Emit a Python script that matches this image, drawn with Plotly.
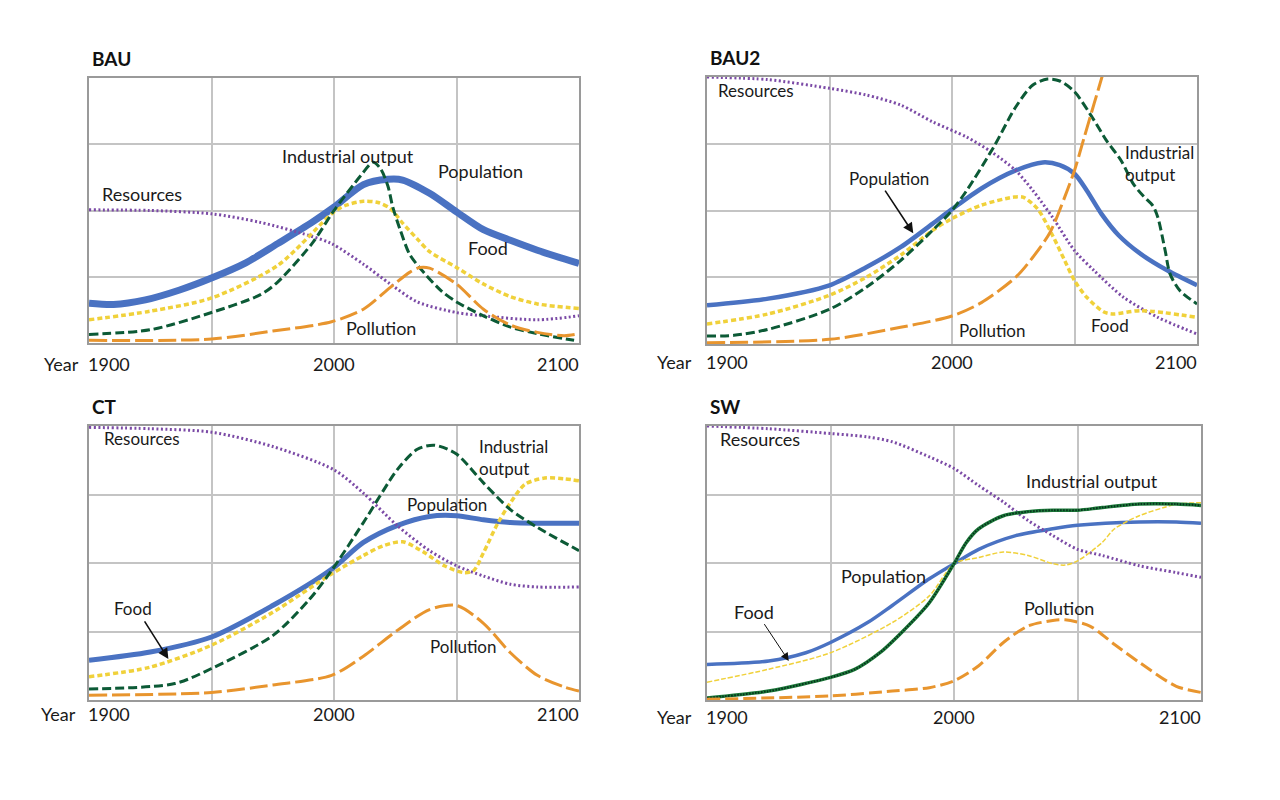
import plotly.graph_objects as go

# ---------------- data (values in grid units, 0..4) ----------------
# BAU
bau_pop_yr = [1900, 1910, 1923, 1937, 1950, 1964, 1977, 1991, 2000, 2012, 2022, 2028, 2039, 2050, 2061, 2072, 2083, 2100]
bau_pop = [0.60, 0.58, 0.65, 0.80, 0.98, 1.21, 1.50, 1.82, 2.05, 2.39, 2.47, 2.46, 2.26, 1.98, 1.71, 1.55, 1.40, 1.20]
bau_res_yr = [1900, 1925, 1950, 1970, 1990, 1999, 2012, 2023, 2034, 2050, 2061, 2083, 2100]
bau_res = [2.01, 2.00, 1.95, 1.82, 1.62, 1.50, 1.19, 0.89, 0.62, 0.46, 0.41, 0.35, 0.41]
bau_food_yr = [1900, 1925, 1950, 1977, 2000, 2005, 2012, 2018, 2023, 2028, 2034, 2039, 2050, 2061, 2072, 2083, 2100]
bau_food = [0.35, 0.48, 0.68, 1.17, 1.98, 2.08, 2.14, 2.12, 2.03, 1.81, 1.57, 1.38, 1.14, 0.89, 0.70, 0.59, 0.52]
bau_ind_yr = [1900, 1925, 1950, 1970, 1977, 1991, 2000, 2011, 2016, 2019, 2022, 2024, 2027, 2031, 2037, 2044, 2050, 2061, 2072, 2083, 2098]
bau_ind = [0.13, 0.20, 0.46, 0.73, 0.92, 1.50, 2.00, 2.53, 2.73, 2.63, 2.37, 2.05, 1.71, 1.33, 1.05, 0.78, 0.62, 0.41, 0.24, 0.14, 0.04]
bau_poll_yr = [1900, 1950, 1975, 1999, 2012, 2023, 2031, 2035, 2039, 2050, 2061, 2072, 2083, 2094, 2100]
bau_poll = [0.04, 0.06, 0.18, 0.32, 0.51, 0.84, 1.07, 1.14, 1.13, 0.89, 0.51, 0.27, 0.16, 0.11, 0.14]

# BAU2
bau2_pop_yr = [1900, 1925, 1950, 1965, 1979, 1992, 2000, 2012, 2026, 2037, 2044, 2050, 2055, 2061, 2068, 2077, 2088, 2100]
bau2_pop = [0.58, 0.68, 0.88, 1.15, 1.45, 1.80, 2.02, 2.33, 2.60, 2.72, 2.68, 2.55, 2.30, 1.95, 1.63, 1.35, 1.10, 0.88]
bau2_res_yr = [1900, 1925, 1950, 1965, 1979, 1992, 2006, 2016, 2026, 2033, 2041, 2050, 2058, 2070, 2084, 2100]
bau2_res = [4.00, 3.96, 3.83, 3.73, 3.58, 3.33, 3.10, 2.88, 2.60, 2.30, 1.90, 1.40, 1.10, 0.70, 0.40, 0.15]
bau2_food_yr = [1900, 1925, 1950, 1965, 1979, 1992, 2000, 2012, 2025, 2029, 2035, 2041, 2046, 2050, 2055, 2062, 2066, 2077, 2100]
bau2_food = [0.30, 0.45, 0.73, 1.00, 1.33, 1.70, 1.88, 2.08, 2.20, 2.20, 2.02, 1.63, 1.25, 0.95, 0.70, 0.48, 0.45, 0.50, 0.40]
bau2_ind_yr = [1900, 1911, 1925, 1950, 1965, 1979, 1992, 2000, 2006, 2017, 2026, 2033, 2039, 2044, 2050, 2058, 2063, 2069, 2074, 2078, 2082, 2084, 2087, 2089, 2093, 2100]
bau2_ind = [0.12, 0.13, 0.22, 0.52, 0.85, 1.25, 1.70, 2.00, 2.30, 2.95, 3.55, 3.88, 3.97, 3.94, 3.78, 3.35, 3.05, 2.75, 2.40, 2.22, 2.07, 1.90, 1.40, 1.05, 0.80, 0.60]
bau2_poll_yr = [1900, 1950, 1979, 2000, 2012, 2026, 2033, 2040, 2046, 2050, 2054, 2058, 2062, 2065]
bau2_poll = [0.02, 0.07, 0.25, 0.42, 0.62, 1.00, 1.30, 1.67, 2.20, 2.60, 3.10, 3.60, 4.10, 4.50]

# CT
ct_pop_yr = [1900, 1925, 1950, 1975, 1999, 2012, 2026, 2039, 2050, 2061, 2072, 2083, 2100]
ct_pop = [0.58, 0.70, 0.92, 1.38, 1.91, 2.30, 2.55, 2.68, 2.69, 2.63, 2.59, 2.58, 2.58]
ct_res_yr = [1900, 1925, 1950, 1975, 2000, 2012, 2026, 2039, 2050, 2061, 2072, 2083, 2100]
ct_res = [3.98, 3.96, 3.91, 3.70, 3.36, 3.02, 2.54, 2.18, 1.96, 1.81, 1.69, 1.65, 1.65]
ct_food_yr = [1900, 1925, 1950, 1975, 1999, 2012, 2020, 2028, 2037, 2045, 2053, 2057, 2061, 2067, 2072, 2078, 2086, 2094, 2100]
ct_food = [0.34, 0.48, 0.80, 1.28, 1.84, 2.11, 2.25, 2.31, 2.15, 1.96, 1.86, 1.89, 2.15, 2.59, 2.88, 3.15, 3.24, 3.23, 3.20]
ct_ind_yr = [1900, 1935, 1950, 1975, 1990, 1999, 2012, 2026, 2034, 2041, 2050, 2061, 2072, 2083, 2100]
ct_ind = [0.16, 0.24, 0.46, 0.94, 1.47, 1.89, 2.59, 3.37, 3.66, 3.72, 3.59, 3.17, 2.78, 2.52, 2.18]
ct_poll_yr = [1900, 1950, 1975, 1999, 2012, 2026, 2039, 2050, 2061, 2072, 2083, 2094, 2100]
ct_poll = [0.07, 0.11, 0.22, 0.36, 0.64, 1.02, 1.32, 1.38, 1.12, 0.69, 0.36, 0.19, 0.13]

# SW
sw_pop_yr = [1900, 1925, 1940, 1950, 1965, 1975, 1990, 2000, 2010, 2025, 2040, 2050, 2075, 2090, 2100]
sw_pop = [0.52, 0.57, 0.69, 0.84, 1.13, 1.38, 1.77, 1.99, 2.20, 2.40, 2.50, 2.55, 2.60, 2.60, 2.58]
sw_res_yr = [1900, 1925, 1950, 1965, 1975, 1990, 2000, 2010, 2020, 2030, 2040, 2050, 2060, 2075, 2090, 2100]
sw_res = [4.00, 3.96, 3.89, 3.84, 3.77, 3.55, 3.38, 3.13, 2.89, 2.62, 2.40, 2.20, 2.11, 1.96, 1.86, 1.79]
sw_food_yr = [1900, 1925, 1950, 1975, 1990, 2000, 2010, 2020, 2030, 2040, 2045, 2050, 2060, 2065, 2075, 2085, 2090, 2100]
sw_food = [0.26, 0.45, 0.69, 1.13, 1.52, 1.99, 2.08, 2.16, 2.11, 1.99, 1.97, 2.03, 2.30, 2.50, 2.69, 2.81, 2.86, 2.88]
sw_ind_yr = [1900, 1925, 1950, 1960, 1970, 1980, 1990, 2000, 2005, 2010, 2020, 2030, 2040, 2050, 2060, 2075, 2090, 2100]
sw_ind = [0.03, 0.13, 0.33, 0.45, 0.69, 1.03, 1.42, 1.99, 2.30, 2.50, 2.69, 2.75, 2.77, 2.77, 2.81, 2.86, 2.86, 2.84]
sw_poll_yr = [1900, 1950, 1975, 1990, 2000, 2010, 2020, 2030, 2040, 2045, 2055, 2065, 2075, 2090, 2100]
sw_poll = [0.01, 0.06, 0.13, 0.18, 0.28, 0.50, 0.84, 1.08, 1.16, 1.17, 1.08, 0.81, 0.55, 0.20, 0.11]

panel_titles = ["BAU", "BAU2", "CT", "SW"]
tick_years = [1900, 2000, 2100]
grid_years = [1950, 2000, 2050]
grid_levels = [1, 2, 3]
axis_label = "Year"

# ---------------- styling ----------------
FONT = "Lato"
C_POP = "#4a72c2"
C_RES = "#7b4aa6"
C_FOOD = "#f0d13a"
C_IND = "#0c5a36"
C_POLL = "#e8952e"
RES_DASH = "2px,2.5px"

W, H = 1280, 800
OFF = 7  # page offset compensation
def px_x(p):
    return (p - OFF) / W
def px_y(p):
    return 1 - (p - OFF) / H

# panel pixel boxes: left, right, top, bottom
boxes = [(88, 578, 77, 342), (706, 1196, 76, 343), (88, 578, 425, 699), (706, 1200, 425, 699)]
tick_offsets = [21, 18, 14, 17]
year_gaps = [8, 13, 11, 13]
label_sizes = [18, 17, 17, 18]

fig = go.Figure()

def add_line(k, xs, ys, color, width, dash, name):
    fig.add_trace(go.Scatter(
        x=xs, y=ys, mode="lines", name=name, showlegend=False,
        line=dict(color=color, width=width, dash=dash, shape="spline", smoothing=0.8),
        xaxis="x" if k == 0 else f"x{k+1}", yaxis="y" if k == 0 else f"y{k+1}",
        hoverinfo="skip"))

# BAU
add_line(0, bau_pop_yr, bau_pop, C_POP, 7, "solid", "Population")
add_line(0, bau_res_yr, bau_res, C_RES, 3, RES_DASH, "Resources")
add_line(0, bau_food_yr, bau_food, C_FOOD, 3.5, "5px,3px", "Food")
add_line(0, bau_ind_yr, bau_ind, C_IND, 3, "9px,4px", "Industrial output")
add_line(0, bau_poll_yr, bau_poll, C_POLL, 3, "18px,5px", "Pollution")
# BAU2
add_line(1, bau2_pop_yr, bau2_pop, C_POP, 4.5, "solid", "Population")
add_line(1, bau2_res_yr, bau2_res, C_RES, 3, RES_DASH, "Resources")
add_line(1, bau2_food_yr, bau2_food, C_FOOD, 3.5, "5px,3px", "Food")
add_line(1, bau2_ind_yr, bau2_ind, C_IND, 3, "9px,4px", "Industrial output")
add_line(1, bau2_poll_yr, bau2_poll, C_POLL, 3, "18px,5px", "Pollution")
# CT
add_line(2, ct_pop_yr, ct_pop, C_POP, 5, "solid", "Population")
add_line(2, ct_res_yr, ct_res, C_RES, 3, RES_DASH, "Resources")
add_line(2, ct_food_yr, ct_food, C_FOOD, 3.5, "5px,3px", "Food")
add_line(2, ct_ind_yr, ct_ind, C_IND, 3, "9px,4px", "Industrial output")
add_line(2, ct_poll_yr, ct_poll, C_POLL, 3, "18px,5px", "Pollution")
# SW
add_line(3, sw_pop_yr, sw_pop, C_POP, 3.5, "solid", "Population")
add_line(3, sw_res_yr, sw_res, C_RES, 3, RES_DASH, "Resources")
add_line(3, sw_food_yr, sw_food, C_FOOD, 1.5, "5px,2px", "Food")
add_line(3, sw_ind_yr, sw_ind, "#1d7a3a", 3.5, "solid", "Industrial output")
add_line(3, sw_ind_yr, sw_ind, "#06301c", 2, "1.5px,1.5px", "Industrial output")
add_line(3, sw_poll_yr, sw_poll, C_POLL, 3, "13px,5px", "Pollution")

layout = dict(width=W, height=H, margin=dict(l=0, r=0, t=0, b=0),
              paper_bgcolor="white", plot_bgcolor="white",
              font=dict(family=FONT, size=18, color="#1a1a1a"), showlegend=False)
annotations = []
for k, (l, r, t, b) in enumerate(boxes):
    sfx = "" if k == 0 else str(k + 1)
    layout[f"xaxis{sfx}"] = dict(
        domain=[px_x(l), px_x(r)], range=[1900, 2100], anchor=f"y{sfx}",
        tickvals=grid_years, showticklabels=False, ticks="",
        showgrid=True, gridcolor="#c4c4c4", gridwidth=1.5, zeroline=False,
        showline=True, mirror=True, linecolor="#9a9a9a", linewidth=2, fixedrange=True)
    layout[f"yaxis{sfx}"] = dict(
        domain=[px_y(b), px_y(t)], range=[0, 4], anchor=f"x{sfx}",
        tickvals=grid_levels, showticklabels=False, ticks="",
        showgrid=True, gridcolor="#c4c4c4", gridwidth=1.5, zeroline=False,
        showline=True, mirror=True, linecolor="#9a9a9a", linewidth=2, fixedrange=True)
    # title
    annotations.append(dict(text=f"<b>{panel_titles[k]}</b>", xref="paper", yref="paper",
                            x=px_x(l + 1), y=px_y(t - 20), xanchor="left", yanchor="middle",
                            showarrow=False, font=dict(size=19, family=FONT, color="#111")))
    # tick labels
    anchors = ["left", "center", "right"]
    for tv, an in zip(tick_years, anchors):
        annotations.append(dict(text=str(tv), xref=f"x{sfx}", yref=f"y{sfx} domain",
                                x=tv, y=0, xanchor=an, yanchor="middle",
                                xshift=(-3 if an == "left" else (2 if an == "right" else 0)),
                                yshift=-tick_offsets[k], showarrow=False,
                                font=dict(size=18, family=FONT)))
    annotations.append(dict(text=axis_label, xref=f"x{sfx} domain", yref=f"y{sfx} domain",
                            x=0, y=0, xanchor="right", yanchor="middle",
                            xshift=-year_gaps[k], yshift=-tick_offsets[k], showarrow=False,
                            font=dict(size=18, family=FONT)))

def lab(k, text, x, y, anchor="center", align="center"):
    sfx = "" if k == 0 else str(k + 1)
    annotations.append(dict(text=text, xref=f"x{sfx}", yref=f"y{sfx}", x=x, y=y,
                            xanchor=anchor, yanchor="middle", align=align, showarrow=False,
                            font=dict(size=label_sizes[k], family=FONT, color="#1a1a1a")))

def arrow(k, x0, y0, x1, y1, width):
    sfx = "" if k == 0 else str(k + 1)
    annotations.append(dict(text="", xref=f"x{sfx}", yref=f"y{sfx}", x=x1, y=y1,
                            axref=f"x{sfx}", ayref=f"y{sfx}", ax=x0, ay=y0,
                            showarrow=True, arrowhead=2, arrowsize=1.3 if width > 1 else 1.6,
                            arrowwidth=width, arrowcolor="#111"))

# BAU labels
lab(0, "Industrial output", 2005.7, 2.82)
lab(0, "Population", 2059.8, 2.60)
lab(0, "Resources", 1921.6, 2.25)
lab(0, "Food", 2063, 1.44)
lab(0, "Pollution", 2019.3, 0.22)
# BAU2 labels
lab(1, "Resources", 1919.8, 3.80)
lab(1, "Population", 1974.2, 2.48)
arrow(1, 1972.3, 2.32, 1984.2, 1.66, 1.6)
lab(1, "Industrial<br>output", 2069.6, 2.71, anchor="left", align="left")
lab(1, "Food", 2064.3, 0.28)
lab(1, "Pollution", 2016.6, 0.20)
# CT labels
lab(2, "Resources", 1921.6, 3.82)
lab(2, "Industrial<br>output", 2058.3, 3.54, anchor="left", align="left")
lab(2, "Population", 2046.3, 2.86)
lab(2, "Food", 1917.8, 1.34)
arrow(2, 1922.3, 1.17, 1932.4, 0.60, 1.6)
lab(2, "Pollution", 2053, 0.78)
# SW labels
lab(3, "Resources", 1921.3, 3.81)
lab(3, "Industrial output", 2055.9, 3.19)
lab(3, "Population", 1971.3, 1.81)
lab(3, "Food", 1919.1, 1.28)
arrow(3, 1922.8, 1.13, 1933.1, 0.57, 1)
lab(3, "Pollution", 2042.6, 1.35)

layout["annotations"] = annotations
fig.update_layout(**layout)
fig.write_html("out.html")
